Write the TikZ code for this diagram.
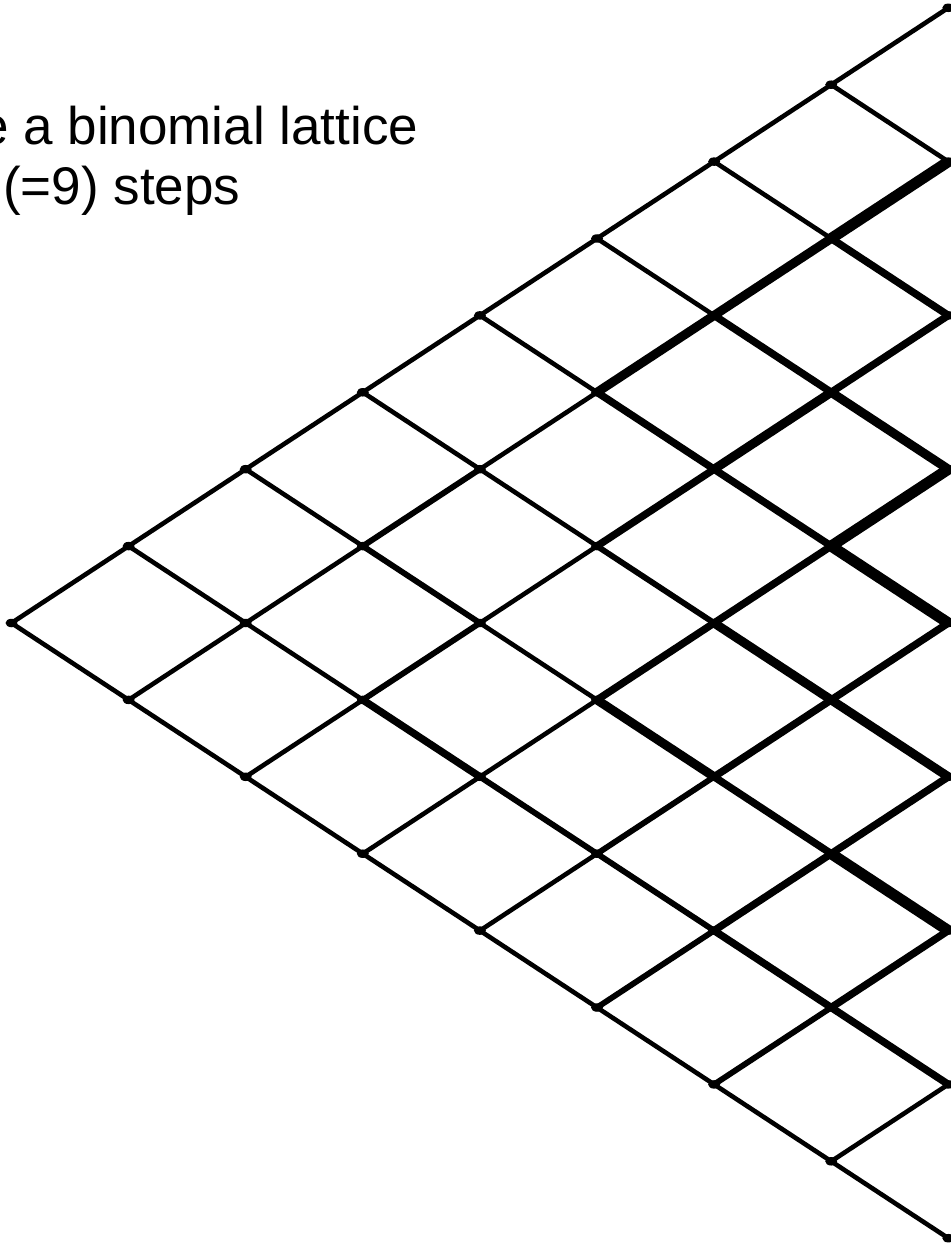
\documentclass[tikz,border=0pt]{standalone}
\usepackage{fontspec}
\setmainfont{Liberation Sans}
\usetikzlibrary{shapes.geometric}

\begin{document}
\begin{tikzpicture}[
  x=1pt, y=-1pt,
  font=\fontsize{53}{60}\selectfont,
  latnode/.style={ellipse, fill=black, inner sep=0pt,
                  minimum width=12pt, minimum height=8.5pt},
  link/.style={line width=4.6pt},
  lwa/.style={line width=5.8pt},
  lwb/.style={line width=7.4pt},
  lwc/.style={line width=9pt},
  lwd/.style={line width=11pt}
]
\useasboundingbox (0,0) rectangle (950,1246);
% heading, cut off at the left margin
\node[anchor=base west, inner sep=0pt] (head1) at (-21,145) {e a binomial lattice};
\node[anchor=base west, inner sep=0pt] (head2) at (3,205) {(=9) steps};
% lattice nodes
\foreach \i in {0,...,8}
  \foreach \k in {0,...,\i}
    \node[latnode] (n-\i-\k) at ({11.5+117.1*\i},{623+76.9*(2*\k-\i)}) {};
% up and down moves
\foreach \i in {0,...,7}
  \foreach \k in {0,...,\i} {
    \pgfmathtruncatemacro\j{\i+1}
    \pgfmathtruncatemacro\m{\k+1}
    \draw[link] (n-\i-\k.center) -- (n-\j-\k.center);
    \draw[link] (n-\i-\k.center) -- (n-\j-\m.center);
  }
% heavier moves
\foreach \a/\b in {3-1/4-1, 3-1/4-2, 3-2/4-2, 4-3/5-4, 5-2/6-3, 5-4/6-4,
                   5-4/6-5, 5-5/6-5, 6-6/7-6}
  \draw[lwa] (n-\a.center) -- (n-\b.center);
\foreach \a/\b in {3-2/4-3, 5-1/6-2, 5-2/6-2, 5-3/6-3, 6-1/7-2, 6-2/7-3,
                   6-3/7-3, 6-4/7-4, 6-4/7-5, 6-5/7-5, 6-5/7-6, 7-1/8-2,
                   7-2/8-2, 7-4/8-4, 7-5/8-5, 7-6/8-6, 7-6/8-7}
  \draw[lwb] (n-\a.center) -- (n-\b.center);
\foreach \a/\b in {5-1/6-1, 5-3/6-4, 6-1/7-1, 6-2/7-2, 6-3/7-4, 7-2/8-3, 7-4/8-5}
  \draw[lwc] (n-\a.center) -- (n-\b.center);
\foreach \a/\b in {7-1/8-1, 7-3/8-3, 7-3/8-4, 7-5/8-6}
  \draw[lwd] (n-\a.center) -- (n-\b.center);
\end{tikzpicture}
\end{document}
